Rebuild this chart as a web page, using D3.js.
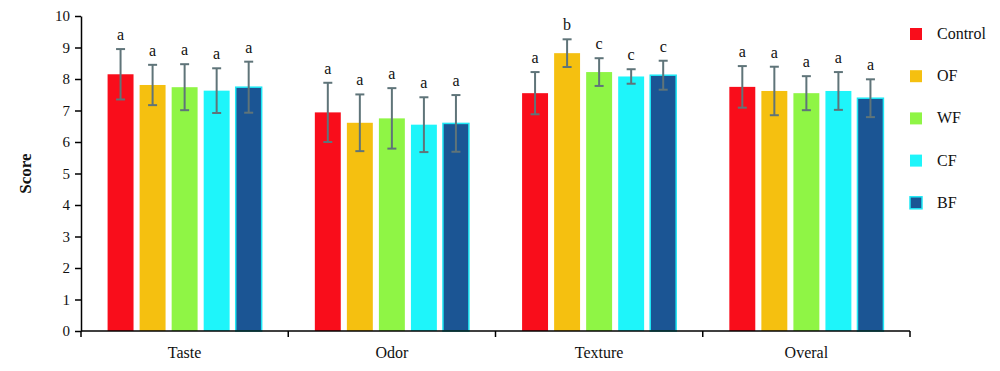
<!DOCTYPE html>
<html>
<head>
<meta charset="utf-8">
<script src="https://cdn.jsdelivr.net/npm/d3@7"></script>
<style>
  body { margin: 0; background: #fff; }
  text { font-family: "Liberation Serif", "DejaVu Serif", serif; }
</style>
</head>
<body>
<script>
// categories and treatment groups
const categories = ["Taste", "Odor", "Texture", "Overal"];
const groups = ["Control", "OF", "WF", "CF", "BF"];
const colors = ["#f90d1b", "#f5c010", "#8ff545", "#1ef5fa", "#1b5594"];

// mean scores per category, one array per group
const control = [8.15, 6.94, 7.55, 7.75];
const of = [7.81, 6.61, 8.82, 7.62];
const wf = [7.74, 6.75, 8.22, 7.55];
const cf = [7.63, 6.55, 8.08, 7.62];
const bf = [7.74, 6.59, 8.12, 7.39];

// standard deviations
const controlSd = [0.80, 0.94, 0.67, 0.66];
const ofSd = [0.64, 0.90, 0.44, 0.77];
const wfSd = [0.73, 0.96, 0.44, 0.54];
const cfSd = [0.71, 0.87, 0.23, 0.60];
const bfSd = [0.81, 0.90, 0.46, 0.60];

// significance letters
const controlLetters = ["a", "a", "a", "a"];
const ofLetters = ["a", "a", "b", "a"];
const wfLetters = ["a", "a", "c", "a"];
const cfLetters = ["a", "a", "c", "a"];
const bfLetters = ["a", "a", "c", "a"];

const yTicks = [0, 1, 2, 3, 4, 5, 6, 7, 8, 9, 10];

const means = [control, of, wf, cf, bf];
const sds = [controlSd, ofSd, wfSd, cfSd, bfSd];
const letters = [controlLetters, ofLetters, wfLetters, cfLetters, bfLetters];

const width = 1000, height = 371;
const margin = { top: 16, right: 90, bottom: 40, left: 81 };

const svg = d3.select("body").append("svg")
  .attr("width", width)
  .attr("height", height);

const x0 = d3.scaleBand()
  .domain(categories)
  .range([margin.left, width - margin.right]);

const x1 = d3.scaleBand()
  .domain(groups)
  .range([0, x0.bandwidth()])
  .paddingInner(0.19)
  .paddingOuter(0.83);

const y = d3.scaleLinear()
  .domain([0, 10])
  .range([height - margin.bottom, margin.top]);

// build rows
const rows = [];
categories.forEach((c, ci) => {
  groups.forEach((g, gi) => {
    rows.push({ cat: c, group: g, gi: gi, mean: means[gi][ci], sd: sds[gi][ci], letter: letters[gi][ci] });
  });
});

// bars
svg.append("g").selectAll("rect")
  .data(rows)
  .join("rect")
  .attr("x", d => x0(d.cat) + x1(d.group))
  .attr("y", d => y(d.mean))
  .attr("width", x1.bandwidth())
  .attr("height", d => y(0) - y(d.mean))
  .attr("fill", d => colors[d.gi])
  .attr("stroke", d => d.group === "BF" ? "#1ee8f5" : "none")
  .attr("stroke-width", 1.5);

// error bars
const err = svg.append("g")
  .attr("stroke", "#5f7479")
  .attr("stroke-width", 2);
rows.forEach(d => {
  const cx = x0(d.cat) + x1(d.group) + x1.bandwidth() / 2;
  const t = y(d.mean + d.sd), b = y(d.mean - d.sd);
  err.append("line").attr("x1", cx).attr("x2", cx).attr("y1", t).attr("y2", b);
  err.append("line").attr("x1", cx - 4.5).attr("x2", cx + 4.5).attr("y1", t).attr("y2", t);
  err.append("line").attr("x1", cx - 4.5).attr("x2", cx + 4.5).attr("y1", b).attr("y2", b);
});

// letters
svg.append("g").selectAll("text")
  .data(rows)
  .join("text")
  .attr("x", d => x0(d.cat) + x1(d.group) + x1.bandwidth() / 2)
  .attr("y", d => y(d.mean + d.sd) - 9)
  .attr("text-anchor", "middle")
  .attr("font-size", 16)
  .attr("fill", "#111")
  .text(d => d.letter);

// y axis
const yAxis = svg.append("g")
  .attr("transform", `translate(${margin.left},0)`)
  .call(d3.axisLeft(y).tickValues(yTicks).tickSize(6).tickPadding(5).tickSizeOuter(0));
yAxis.select(".domain").attr("stroke-width", 1.5);
yAxis.selectAll(".tick line").attr("stroke-width", 1.5);
yAxis.selectAll("text").attr("font-size", 15).attr("fill", "#111")
  .style("font-family", "'Liberation Serif', serif");

// x axis: ticks at band edges
const xg = svg.append("g")
  .attr("transform", `translate(0,${y(0)})`);
xg.append("line")
  .attr("x1", margin.left).attr("x2", width - margin.right)
  .attr("stroke", "#000").attr("stroke-width", 1.5);
const edges = categories.map(c => x0(c)).concat([x0.range()[1]]);
xg.selectAll(".edge").data(edges).join("line")
  .attr("class", "edge")
  .attr("x1", d => d).attr("x2", d => d)
  .attr("y1", 0).attr("y2", 6)
  .attr("stroke", "#000").attr("stroke-width", 1.5);
xg.selectAll(".lab").data(categories).join("text")
  .attr("class", "lab")
  .attr("x", d => x0(d) + x0.bandwidth() / 2)
  .attr("y", 27)
  .attr("text-anchor", "middle")
  .attr("font-size", 16)
  .attr("fill", "#111")
  .text(d => d);

// y label
svg.append("text")
  .attr("transform", `translate(31,${y(5)}) rotate(-90)`)
  .attr("text-anchor", "middle")
  .attr("font-size", 17)
  .attr("font-weight", "bold")
  .attr("fill", "#111")
  .text("Score");

// legend
const legend = svg.append("g").attr("transform", "translate(910,28)");
groups.forEach((g, i) => {
  const row = legend.append("g").attr("transform", `translate(0,${i * 42.2})`);
  row.append("rect")
    .attr("width", 12).attr("height", 12)
    .attr("fill", colors[i])
    .attr("stroke", g === "BF" ? "#1ee8f5" : "none")
    .attr("stroke-width", 1.5);
  row.append("text")
    .attr("x", 27).attr("y", 11)
    .attr("font-size", 16)
    .attr("fill", "#111")
    .text(g);
});
</script>
</body>
</html>
